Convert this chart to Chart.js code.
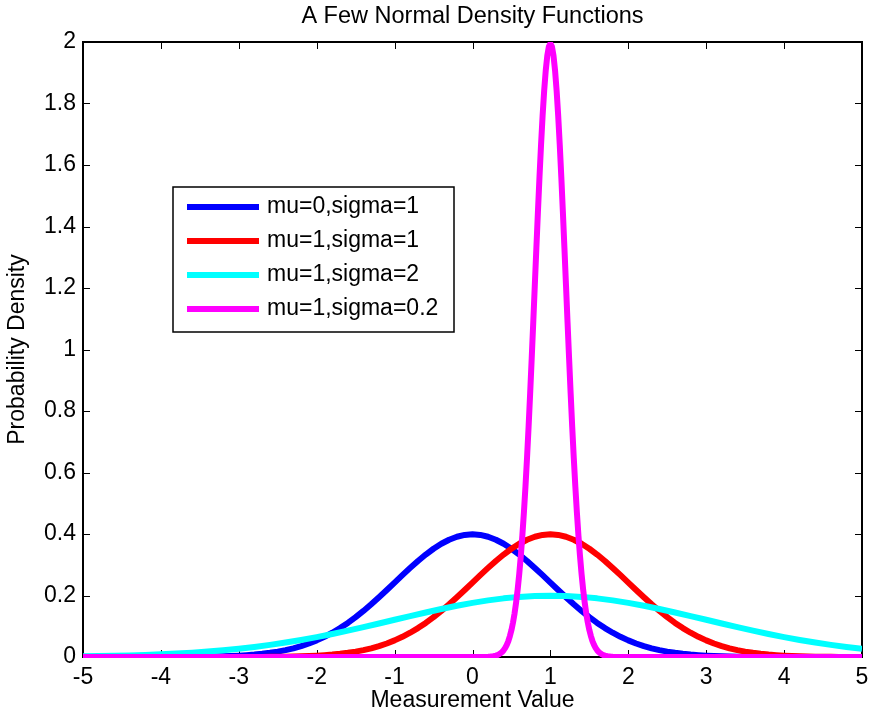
<!DOCTYPE html>
<html>
<head>
<meta charset="utf-8">
<script src="https://cdn.jsdelivr.net/npm/chart.js@4/dist/chart.umd.min.js"></script>
<style>
  html, body { margin: 0; padding: 0; background: #fff; overflow: hidden; }
  canvas { display: block; }
</style>
</head>
<body>
<canvas id="c" width="870" height="719"></canvas>
<script>
// ---------- data ----------
const titleText = 'A Few Normal Density Functions';
const xAxisLabel = 'Measurement Value';
const yAxisLabel = 'Probability Density';

const seriesNames = ['mu=0,sigma=1', 'mu=1,sigma=1', 'mu=1,sigma=2', 'mu=1,sigma=0.2'];
const seriesColors = ['#0000ff', '#ff0000', '#00ffff', '#ff00ff'];

const xTickLabels = ['-5', '-4', '-3', '-2', '-1', '0', '1', '2', '3', '4', '5'];
const yTickLabels = ['0', '0.2', '0.4', '0.6', '0.8', '1', '1.2', '1.4', '1.6', '1.8', '2'];

// x positions (step 0.1) shared by the blue and red curves
const xFine = [-5,-4.9,-4.8,-4.7,-4.6,-4.5,-4.4,-4.3,-4.2,-4.1,-4,-3.9,-3.8,-3.7,-3.6,-3.5,-3.4,-3.3,-3.2,-3.1,
  -3,-2.9,-2.8,-2.7,-2.6,-2.5,-2.4,-2.3,-2.2,-2.1,-2,-1.9,-1.8,-1.7,-1.6,-1.5,-1.4,-1.3,-1.2,-1.1,
  -1,-0.9,-0.8,-0.7,-0.6,-0.5,-0.4,-0.3,-0.2,-0.1,0,0.1,0.2,0.3,0.4,0.5,0.6,0.7,0.8,0.9,
  1,1.1,1.2,1.3,1.4,1.5,1.6,1.7,1.8,1.9,2,2.1,2.2,2.3,2.4,2.5,2.6,2.7,2.8,2.9,
  3,3.1,3.2,3.3,3.4,3.5,3.6,3.7,3.8,3.9,4,4.1,4.2,4.3,4.4,4.5,4.6,4.7,4.8,4.9,5];

const blueY = [0,0,0,0,0,0,0,0,0.0001,0.0001,0.0001,0.0002,0.0003,0.0004,0.0006,0.0009,0.0012,0.0017,0.0024,0.0033,
  0.0044,0.0060,0.0079,0.0104,0.0136,0.0175,0.0224,0.0283,0.0355,0.0440,0.0540,0.0656,0.0790,0.0940,0.1109,0.1295,0.1497,0.1714,0.1942,0.2179,
  0.2420,0.2661,0.2897,0.3123,0.3332,0.3521,0.3683,0.3814,0.3910,0.3970,0.3989,
  0.3970,0.3910,0.3814,0.3683,0.3521,0.3332,0.3123,0.2897,0.2661,0.2420,0.2179,0.1942,0.1714,0.1497,0.1295,0.1109,0.0940,0.0790,0.0656,0.0540,
  0.0440,0.0355,0.0283,0.0224,0.0175,0.0136,0.0104,0.0079,0.0060,0.0044,0.0033,0.0024,0.0017,0.0012,0.0009,0.0006,0.0004,0.0003,0.0002,0.0001,
  0.0001,0.0001,0,0,0,0,0,0,0,0];

const redY = [0,0,0,0,0,0,0,0,0,0,
  0,0,0,0,0,0,0,0,0.0001,0.0001,0.0001,0.0002,0.0003,0.0004,0.0006,0.0009,0.0012,0.0017,0.0024,0.0033,
  0.0044,0.0060,0.0079,0.0104,0.0136,0.0175,0.0224,0.0283,0.0355,0.0440,0.0540,0.0656,0.0790,0.0940,0.1109,0.1295,0.1497,0.1714,0.1942,0.2179,
  0.2420,0.2661,0.2897,0.3123,0.3332,0.3521,0.3683,0.3814,0.3910,0.3970,0.3989,
  0.3970,0.3910,0.3814,0.3683,0.3521,0.3332,0.3123,0.2897,0.2661,0.2420,0.2179,0.1942,0.1714,0.1497,0.1295,0.1109,0.0940,0.0790,0.0656,0.0540,
  0.0440,0.0355,0.0283,0.0224,0.0175,0.0136,0.0104,0.0079,0.0060,0.0044,0.0033,0.0024,0.0017,0.0012,0.0009,0.0006,0.0004,0.0003,0.0002,0.0001];

// x positions (step 0.2) for the cyan curve
const xCyan = [-5,-4.8,-4.6,-4.4,-4.2,-4,-3.8,-3.6,-3.4,-3.2,-3,-2.8,-2.6,-2.4,-2.2,-2,-1.8,-1.6,-1.4,-1.2,
  -1,-0.8,-0.6,-0.4,-0.2,0,0.2,0.4,0.6,0.8,1,1.2,1.4,1.6,1.8,2,2.2,2.4,2.6,2.8,
  3,3.2,3.4,3.6,3.8,4,4.2,4.4,4.6,4.8,5];
const cyanY = [0.0022,0.0030,0.0040,0.0052,0.0068,0.0088,0.0112,0.0142,0.0177,0.0220,0.0270,0.0328,0.0395,0.0470,0.0554,0.0647,0.0748,0.0857,0.0971,0.1089,
  0.1210,0.1330,0.1448,0.1561,0.1666,0.1760,0.1841,0.1907,0.1955,0.1985,0.1995,
  0.1985,0.1955,0.1907,0.1841,0.1760,0.1666,0.1561,0.1448,0.1330,0.1210,0.1089,0.0971,0.0857,0.0748,0.0647,0.0554,0.0470,0.0395,0.0328,0.0270];

// x positions for the narrow magenta curve
const xMagenta = [-5,
  0.2,0.22,0.24,0.26,0.28,0.3,0.32,0.34,0.36,0.38,0.4,0.42,0.44,0.46,0.48,0.5,0.52,0.54,0.56,0.58,
  0.6,0.62,0.64,0.66,0.68,0.7,0.72,0.74,0.76,0.78,0.8,0.82,0.84,0.86,0.88,0.9,0.92,0.94,0.96,0.98,
  1,1.02,1.04,1.06,1.08,1.1,1.12,1.14,1.16,1.18,1.2,1.22,1.24,1.26,1.28,1.3,1.32,1.34,1.36,1.38,
  1.4,1.42,1.44,1.46,1.48,1.5,1.52,1.54,1.56,1.58,1.6,1.62,1.64,1.66,1.68,1.7,1.72,1.74,1.76,1.78,1.8,
  5];
const magentaY = [0,
  0.0007,0.0010,0.0015,0.0021,0.0031,0.0044,0.0062,0.0086,0.0119,0.0163,0.0222,0.0298,0.0396,0.0520,0.0680,0.0876,0.1122,0.1417,0.1775,0.2199,
  0.2700,0.3282,0.3948,0.4702,0.5546,0.6476,0.7483,0.8569,0.9712,1.0894,1.2099,1.3304,1.4487,1.5613,1.6661,1.7603,1.8414,1.9069,1.9552,1.9848,
  1.9947,
  1.9848,1.9552,1.9069,1.8414,1.7603,1.6661,1.5613,1.4487,1.3304,1.2099,1.0894,0.9712,0.8569,0.7483,0.6476,0.5546,0.4702,0.3948,0.3282,0.2700,
  0.2199,0.1775,0.1417,0.1122,0.0876,0.0680,0.0520,0.0396,0.0298,0.0222,0.0163,0.0119,0.0086,0.0062,0.0044,0.0031,0.0021,0.0015,0.0010,0.0007,
  0];

// ---------- chart ----------
const FONT = "'Liberation Sans', Arial, Helvetica, sans-serif";
const FS = 23;
const FS_TITLE = 23.5;

const pts = (xs, ys) => xs.map((x, i) => ({ x: x, y: ys[i] }));
const seriesXs = [xFine, xFine, xCyan, xMagenta];
const seriesYs = [blueY, redY, cyanY, magentaY];

const datasets = seriesNames.map((name, i) => ({
  label: name,
  data: pts(seriesXs[i], seriesYs[i]),
  borderColor: seriesColors[i],
  backgroundColor: seriesColors[i],
  borderWidth: 6,
  pointRadius: 0,
  pointHoverRadius: 0,
  tension: 0,
  fill: false,
  borderJoinStyle: 'round',
  borderCapStyle: 'butt',
  clip: { left: 0, right: 0, top: 0, bottom: 1 },
  order: seriesNames.length - i
}));

const legendBox = { dx: 90, dy: 145, w: 281, h: 145, lineX0: 14, lineX1: 86, textX: 94, row0: 20, rowStep: 34 };

const framePlugin = {
  id: 'matlabFrame',
  beforeDatasetsDraw(chart) {
    const { ctx, chartArea: a, scales: { x, y } } = chart;
    ctx.save();
    ctx.strokeStyle = '#000';
    ctx.lineWidth = 1;
    ctx.beginPath();
    x.ticks.forEach(t => {
      const px = Math.round(x.getPixelForValue(t.value)) + 0.5;
      ctx.moveTo(px, a.bottom); ctx.lineTo(px, a.bottom - 7);
      ctx.moveTo(px, a.top); ctx.lineTo(px, a.top + 7);
    });
    y.ticks.forEach(t => {
      const py = Math.round(y.getPixelForValue(t.value)) + 0.5;
      ctx.moveTo(a.left, py); ctx.lineTo(a.left + 7, py);
      ctx.moveTo(a.right, py); ctx.lineTo(a.right - 7, py);
    });
    ctx.stroke();
    ctx.lineWidth = 2;
    ctx.strokeRect(a.left, a.top, a.right - a.left, a.bottom - a.top);
    ctx.restore();
  },
  afterDatasetsDraw(chart) {
    const { ctx, chartArea: a } = chart;
    const L = legendBox;
    const bx = a.left + L.dx, by = a.top + L.dy;
    ctx.save();
    ctx.fillStyle = '#fff';
    ctx.fillRect(bx, by, L.w, L.h);
    ctx.strokeStyle = '#000';
    ctx.lineWidth = 1.5;
    ctx.strokeRect(bx, by, L.w, L.h);
    ctx.font = FS + 'px ' + FONT;
    ctx.textBaseline = 'middle';
    ctx.textAlign = 'left';
    chart.data.datasets.forEach((ds, i) => {
      const ry = by + L.row0 + i * L.rowStep;
      ctx.strokeStyle = ds.borderColor;
      ctx.lineWidth = 6;
      ctx.lineCap = 'butt';
      ctx.beginPath();
      ctx.moveTo(bx + L.lineX0, ry);
      ctx.lineTo(bx + L.lineX1, ry);
      ctx.stroke();
      ctx.fillStyle = '#000';
      ctx.fillText(ds.label, bx + L.textX, ry);
    });
    ctx.restore();
  }
};

new Chart(document.getElementById('c').getContext('2d'), {
  type: 'line',
  data: { datasets: datasets },
  plugins: [framePlugin],
  options: {
    responsive: false,
    animation: false,
    devicePixelRatio: 1,
    events: [],
    layout: { padding: { left: 0, right: 8, top: 0, bottom: 0 } },
    plugins: {
      legend: { display: false },
      tooltip: { enabled: false },
      title: {
        display: true,
        text: titleText,
        fullSize: false,
        color: '#000',
        font: { family: FONT, size: FS_TITLE, weight: 'normal' },
        padding: { top: 2.4, bottom: 11.4 }
      }
    },
    scales: {
      x: {
        type: 'linear',
        min: -5,
        max: 5,
        afterFit: s => { s.height = 62; s.paddingLeft = 0; s.paddingRight = 0; },
        grid: { display: false, drawTicks: false },
        border: { display: false },
        ticks: {
          stepSize: 1,
          autoSkip: false,
          maxRotation: 0,
          color: '#000',
          padding: 7.2,
          font: { family: FONT, size: FS },
          callback: (v, i) => xTickLabels[i]
        },
        title: {
          display: true,
          text: xAxisLabel,
          color: '#000',
          font: { family: FONT, size: FS },
          padding: { top: 0, bottom: 5 }
        }
      },
      y: {
        type: 'linear',
        min: 0,
        max: 2,
        afterFit: s => { s.width = 83; s.paddingTop = 0; s.paddingBottom = 0; },
        grid: { display: false, drawTicks: false },
        border: { display: false },
        ticks: {
          stepSize: 0.2,
          autoSkip: false,
          color: '#000',
          padding: 7,
          font: { family: FONT, size: FS },
          callback: (v, i) => yTickLabels[i]
        },
        title: {
          display: true,
          text: yAxisLabel,
          color: '#000',
          font: { family: FONT, size: FS },
          padding: { top: 3.7, bottom: 0 }
        }
      }
    }
  }
});
</script>
</body>
</html>
